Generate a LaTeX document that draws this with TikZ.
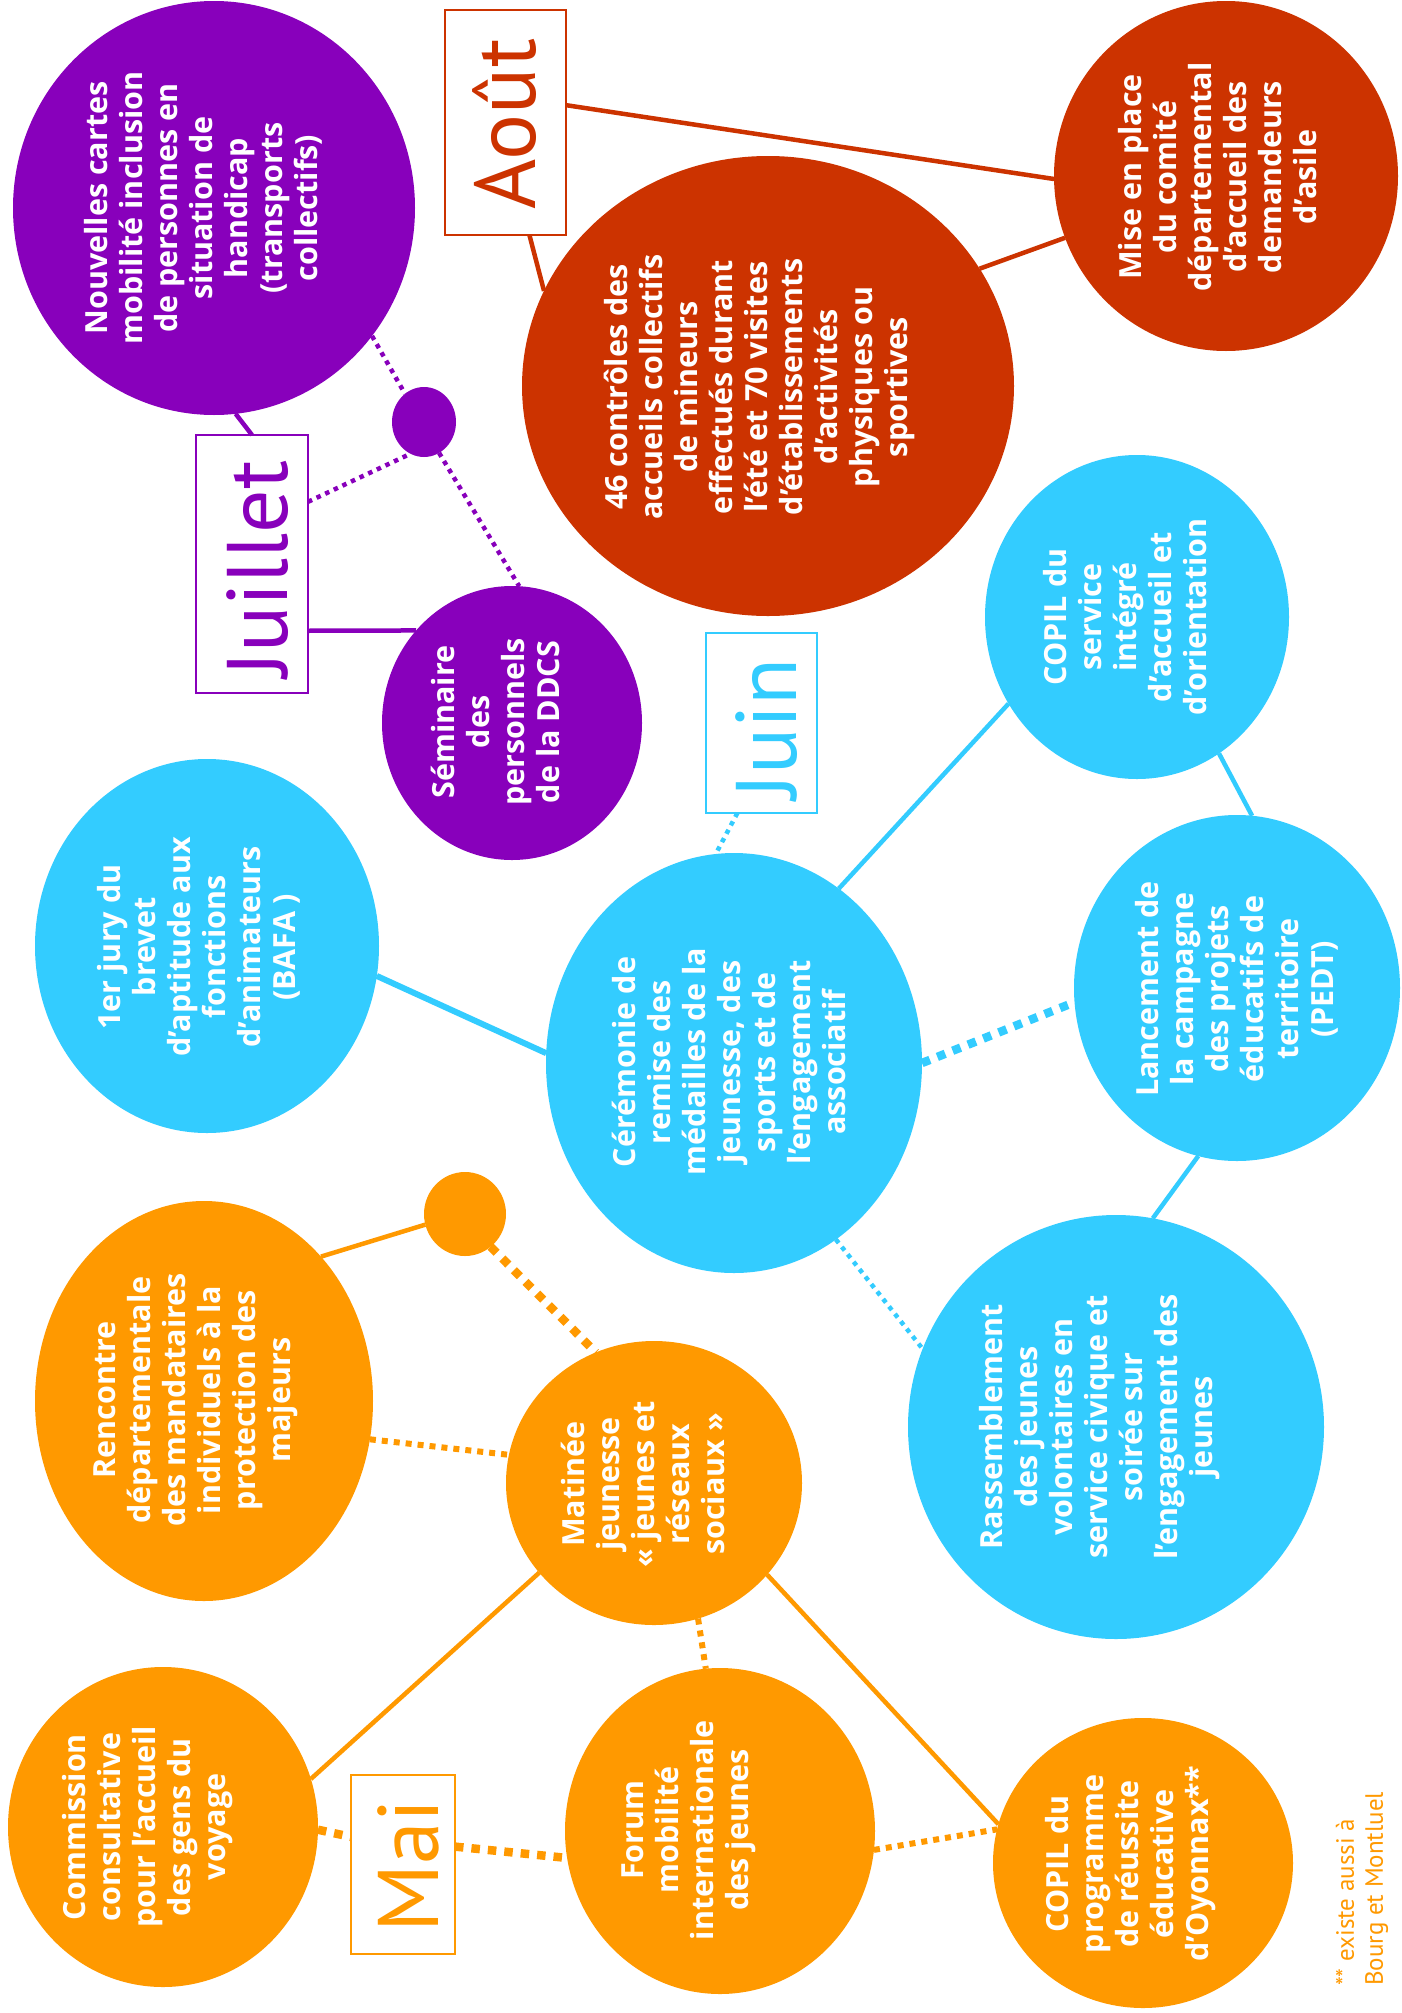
\documentclass[tikz,border=0pt]{standalone}
\usepackage{fontspec}
\usetikzlibrary{shapes.geometric}
\setmainfont{PT Sans}
\newfontfamily\bodyf{Open Sans}
\newfontfamily\monthf{PT Sans}
\definecolor{julc}{HTML}{8800BB}
\definecolor{aoutc}{HTML}{CC3300}
\definecolor{juinc}{HTML}{33CCFF}
\definecolor{maic}{HTML}{FF9900}
\tikzset{
  bub/.style={ellipse, inner sep=0pt, outer sep=0pt, draw=none},
  txt/.style={rotate=90, align=center, text=white, inner sep=0pt,
    font=\bodyf\bfseries\fontsize{30.5}{35}\selectfont},
  monthbox/.style={rectangle, draw, fill=white, line width=2.5pt, inner sep=0pt, outer sep=0pt},
  monthtxt/.style={rotate=90, inner sep=0pt, font=\monthf\fontsize{86}{90}\selectfont},
  solidc/.style={line width=4.5pt},
  dotA/.style={line width=4.5pt, dash pattern=on 4.5pt off 5pt},
  dotB/.style={line width=6pt, dash pattern=on 6pt off 6pt},
  dotC/.style={line width=8.5pt, dash pattern=on 8.5pt off 8pt},
}
\begin{document}
\begin{tikzpicture}[x=1pt,y=-1pt]
\fill[white] (0,0) rectangle (1401,2013);
\useasboundingbox (0,0) rectangle (1401,2013);

% ---------- Juillet (purple)
\node[bub, fill=julc, minimum width=402pt, minimum height=414pt] (nca) at (214,208) {};
\node[bub, fill=julc, minimum width=64pt, minimum height=70pt] (pdot) at (424,422) {};
\node[bub, fill=julc, minimum width=260pt, minimum height=274pt] (sem) at (512,723) {};
\node[monthbox, draw=julc, minimum width=112pt, minimum height=258pt] (jul) at (252,564) {};
\node[txt] (ncat) at (203,208) {Nouvelles cartes\\mobilité inclusion\\de personnes en\\situation de\\handicap\\(transports\\collectifs)};
\node[txt] (semt) at (495,722) {Séminaire\\des\\personnels\\de la DDCS};
\node[monthtxt, text=julc] (jult) at (258,569) {Juillet};

% ---------- Août (red)
\node[bub, fill=aoutc, minimum width=492pt, minimum height=460pt] (c46) at (768,386) {};
\node[bub, fill=aoutc, minimum width=344pt, minimum height=350pt] (mise) at (1226,176) {};
\node[monthbox, draw=aoutc, minimum width=121pt, minimum height=225pt] (aout) at (505.5,122.5) {};
\node[txt] (c46t) at (759,387) {46 contrôles des\\accueils collectifs\\de mineurs\\effectués durant\\l’été et 70 visites\\d’établissements\\d’activités\\physiques ou\\sportives};
\node[txt] (miset) at (1218,177) {Mise en place\\du comité\\départemental\\d’accueil des\\demandeurs\\d’asile};
\node[monthtxt, text=aoutc] (aoutt) at (505,124) {Août};

% ---------- Juin (blue)
\node[bub, fill=juinc, minimum width=304pt, minimum height=324pt] (copil1) at (1137,617) {};
\node[bub, fill=juinc, minimum width=376pt, minimum height=420pt] (cere) at (734,1063) {};
\node[bub, fill=juinc, minimum width=344pt, minimum height=374pt] (bafa) at (207,946) {};
\node[bub, fill=juinc, minimum width=326pt, minimum height=346pt] (pedt) at (1237,988) {};
\node[bub, fill=juinc, minimum width=416pt, minimum height=424pt] (rass) at (1116,1427) {};
\node[monthbox, draw=juinc, minimum width=111pt, minimum height=180pt] (juin) at (761.5,723) {};
\node[txt] (copil1t) at (1125,617) {COPIL du\\service\\intégré\\d’accueil et\\d’orientation};
\node[txt] (ceret) at (729,1062) {Cérémonie de\\remise des\\médailles de la\\jeunesse, des\\sports et de\\l’engagement\\associatif};
\node[txt] (bafat) at (199,947) {1er jury du\\brevet\\d’aptitude aux\\fonctions\\d’animateurs\\(BAFA )};
\node[txt] (pedtt) at (1237,989) {Lancement de\\la campagne\\des projets\\éducatifs de\\territoire\\(PEDT)};
\node[txt] (rasst) at (1100,1427) {Rassemblement\\des jeunes\\volontaires en\\service civique et\\soirée sur\\l’engagement des\\jeunes};
\node[monthtxt, text=juinc] (juint) at (767,729) {Juin};

% ---------- Mai (orange)
\node[bub, fill=maic, minimum width=338pt, minimum height=400pt] (renc) at (204,1401) {};
\node[bub, fill=maic, minimum width=82pt, minimum height=84pt] (odot) at (465,1214) {};
\node[bub, fill=maic, minimum width=296pt, minimum height=284pt] (mat) at (654,1483) {};
\node[bub, fill=maic, minimum width=310pt, minimum height=320pt] (comm) at (163,1827) {};
\node[bub, fill=maic, minimum width=310pt, minimum height=326pt] (forum) at (720,1831) {};
\node[bub, fill=maic, minimum width=300pt, minimum height=290pt] (copil2) at (1143,1863) {};
\node[monthbox, draw=maic, minimum width=104pt, minimum height=179pt] (mai) at (403,1864.5) {};
\node[txt] (renct) at (196,1400) {Rencontre\\départementale\\des mandataires\\individuels à la\\protection des\\majeurs};
\node[txt] (matt) at (643,1484) {Matinée\\jeunesse\\« jeunes et\\réseaux\\sociaux »};
\node[txt] (commt) at (148,1827) {Commission\\consultative\\pour l’accueil\\des gens du\\voyage};
\node[txt] (forumt) at (689,1830) {Forum\\mobilité\\internationale\\des jeunes};
\node[txt] (copil2t) at (1131,1864) {COPIL du\\programme\\de réussite\\éducative\\d’Oyonnax**};
\node[monthtxt, text=maic] (mait) at (408,1866) {Mai};
\node[rotate=90, anchor=west, align=left, inner sep=0pt, text=maic,
  font=\monthf\fontsize{25}{29}\selectfont] (foot) at (1362,1986) {** existe aussi à\\Bourg et Montluel};

% ---------- connectors
\draw[solidc, julc] (nca.-84.2) -- (jul.north);
\draw[solidc, julc] (jul.-50.1) -- (sem.136.2);
\draw[dotA, julc] (jul.48.8) -- (pdot.-113.6);
\draw[dotA, julc] (nca.-39.9) -- (pdot.124.6);
\draw[dotA, julc] (pdot.-64.1) -- (sem.87.5);

\draw[solidc, aoutc] (aout.16.1) -- (mise.181.7);
\draw[solidc, aoutc] (aout.-78.7) -- (c46.157.2);
\draw[solidc, aoutc] (c46.29.1) -- (mise.201.4);

\draw[dotA, juinc] (juin.-105.8) -- (cere.95.7);
\draw[solidc, juinc] (cere.59) -- (copil1.214.8);
\draw[solidc, juinc] (copil1.-59.4) -- (pedt.85.4);
\draw[dotC, juinc] (cere.0.3) -- (pedt.185.6);
\draw[solidc, juinc, line width=6pt] (bafa.-10.3) -- (cere.177);
\draw[dotA, juinc] (cere.-60.5) -- (rass.158.2);
\draw[solidc, juinc] (pedt.-103.6) -- (rass.80);

\draw[solidc, maic] (renc.51.8) -- (odot.195.4);
\draw[dotC, maic] (odot.-52.6) -- (mat.114.4);
\draw[dotB, maic] (renc.-13.2) -- (mat.169.1);
\draw[solidc, maic] (comm.18.9) -- (mat.218);
\draw[solidc, maic] (mat.-39.1) -- (copil2.165.7);
\draw[dotB, maic] (mat.-72.6) -- (forum.95.6);
\draw[dotC, maic] (comm.-1.5) -- (mai.152.1);
\draw[dotC, maic] (mai.19.6) -- (forum.190.7);
\draw[dotB, maic] (forum.-7.4) -- (copil2.167.7);
\end{tikzpicture}
\end{document}
